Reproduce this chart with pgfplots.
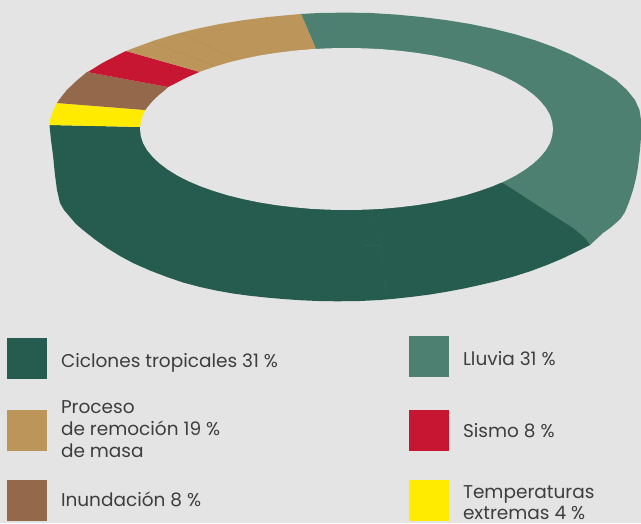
\documentclass[border=0pt]{standalone}
\usepackage{pgfplots}
\pgfplotsset{compat=1.18}
\usepackage{fontspec}
\setmainfont{Poppins}
\definecolor{bg}{HTML}{E4E4E4}
\definecolor{dg}{HTML}{265C4F}
\definecolor{lg}{HTML}{4E8072}
\definecolor{tan}{HTML}{BB955A}
\definecolor{rd}{HTML}{C61632}
\definecolor{br}{HTML}{94694B}
\definecolor{yl}{HTML}{FFEB00}
\definecolor{tx}{HTML}{3E3E3E}
\tikzset{lab/.style={anchor=base west,text=tx,font=\fontsize{18.5}{22}\selectfont,inner sep=0pt,outer sep=0pt}}
\begin{document}
\begin{tikzpicture}
\begin{axis}[hide axis,scale only axis,x=1pt,y=1pt,y dir=reverse,xmin=0,xmax=641,ymin=0,ymax=523]
% background
\addplot[fill=bg,draw=none] coordinates {(0,0)(641,0)(641,523)(0,523)} --cycle;
% light green (Lluvia)
\addplot[fill=lg,draw=none] coordinates {(301,14)(319.2,13)(345,12.6)(370.8,13)(396.4,14.6)(421.6,17)(446.2,20.1)(470.1,24)(493,28.7)(514.8,34.2)(535.3,40.4)(554.3,47.3)(571.7,54.8)(587.5,62.9)(602,71)(616,80)(627,90)(635,100)(639.5,110)(641,120)(641,137)(640,150)(638,167)(636,178)(633,190)(629,202)(625,212)(621,218)(617,222)(610,228)(603,233)(590,245)(503,183)(346,100)(316,49)} --cycle;
% dark green (Ciclones tropicales)
\addplot[fill=dg,draw=none] coordinates {(49.5,125)(51,140)(53,155)(55,175)(57,190)(60,203)(64,210)(70,217)(76,224)(83,230)(95,239.5)(107,248)(120,256)(133,263)(150,270.5)(167,277)(183,282.5)(200,287)(216,290.5)(233,293.5)(250,295.8)(267,297.6)(283,299)(300,300.2)(318,301)(337,301.3)(360,301)(380,300)(396,298.6)(413,296.7)(430,294.5)(447,291.7)(464,288.5)(480,285)(497,281)(513,276.7)(530,271.3)(547,265)(564,257.8)(580,250)(590,245)(586,239)(579,233)(573,228)(540,207)(503,183)(346,130)(140,127)} --cycle;
% yellow
\addplot[fill=yl,draw=none] coordinates {(49.5,125)(50.1,119.8)(53.5,109.7)(57,103)(145,110)(140,127)} --cycle;
% brown
\addplot[fill=br,draw=none] coordinates {(57,103)(59.1,99.7)(66.8,90)(76.7,80.6)(87,72)(168,87)(145,110)} --cycle;
% red
\addplot[fill=rd,draw=none] coordinates {(87,72)(88.7,71.5)(102.5,62.9)(118.3,54.8)(126,51)(200,72)(168,87)} --cycle;
% tan
\addplot[fill=tan,draw=none] coordinates {(126,51)(135.7,47.3)(154.7,40.4)(175.2,34.2)(197,28.7)(219.9,24)(243.8,20.1)(268.4,17)(293.6,14.6)(301,14)(316,49)(200,72)} --cycle;
% hole
\addplot[fill=bg,draw=none] coordinates {(140,129)(140.8,121.9)(143.1,114.9)(147,108)(152.5,101.3)(159.3,94.8)(167.7,88.5)(177.3,82.5)(188.3,76.9)(200.5,71.7)(213.8,67)(228.1,62.6)(243.2,58.9)(259.2,55.6)(275.9,52.9)(293.1,50.8)(310.7,49.2)(328.5,48.3)(346.5,48)(364.5,48.3)(382.3,49.2)(399.9,50.8)(417.1,52.9)(433.8,55.6)(449.8,58.9)(464.9,62.6)(479.2,67)(492.5,71.7)(504.7,76.9)(515.7,82.5)(525.3,88.5)(533.7,94.8)(540.5,101.3)(546,108)(549.9,114.9)(552.2,121.9)(553,129)(552.2,136.1)(549.9,143.1)(546,150)(540.5,156.7)(533.7,163.2)(525.3,169.5)(515.7,175.5)(504.7,181.1)(492.5,186.3)(479.2,191)(464.9,195.4)(449.8,199.1)(433.8,202.4)(417.1,205.1)(399.9,207.2)(382.3,208.8)(364.5,209.7)(346.5,210)(328.5,209.7)(310.7,208.8)(293.1,207.2)(275.9,205.1)(259.2,202.4)(243.2,199.1)(228.1,195.4)(213.8,191)(200.5,186.3)(188.3,181.1)(177.3,175.5)(167.7,169.5)(159.3,163.2)(152.5,156.7)(147,150)(143.1,143.1)(140.8,136.1)} --cycle;
% faint seams
\addplot[draw=tan!95!black,line width=0.3pt] coordinates {(180,33)(238,60)};
\addplot[draw=tan!95!black,line width=0.3pt] coordinates {(150,42)(213,65)};
\addplot[draw=dg!97!white,line width=0.3pt] coordinates {(372,212)(381,245)(386,297)};
\addplot[draw=dg!97!white,line width=0.3pt] coordinates {(364,245)(381,245)};
% legend squares
\addplot[fill=dg,draw=none] coordinates {(7,338)(47,338)(47,379)(7,379)} --cycle;
\addplot[fill=tan,draw=none] coordinates {(7,410)(47,410)(47,451)(7,451)} --cycle;
\addplot[fill=br,draw=none] coordinates {(7,480)(47,480)(47,521)(7,521)} --cycle;
\addplot[fill=lg,draw=none] coordinates {(409,336)(449,336)(449,377)(409,377)} --cycle;
\addplot[fill=rd,draw=none] coordinates {(409,410)(449,410)(449,451)(409,451)} --cycle;
\addplot[fill=yl,draw=none] coordinates {(409,480)(449,480)(449,521)(409,521)} --cycle;
\node[lab] at (axis cs:61,367) {Ciclones tropicales 31 \%};
\node[lab] at (axis cs:61,413) {Proceso};
\node[lab] at (axis cs:61,435) {de remoción 19 \%};
\node[lab] at (axis cs:61,457) {de masa};
\node[lab] at (axis cs:61,506) {Inundación 8 \%};
\node[lab] at (axis cs:463,365) {Lluvia 31 \%};
\node[lab] at (axis cs:463,437) {Sismo 8 \%};
\node[lab] at (axis cs:463,498) {Temperaturas};
\node[lab] at (axis cs:463,519.5) {extremas 4 \%};
\end{axis}
\end{tikzpicture}
\end{document}
